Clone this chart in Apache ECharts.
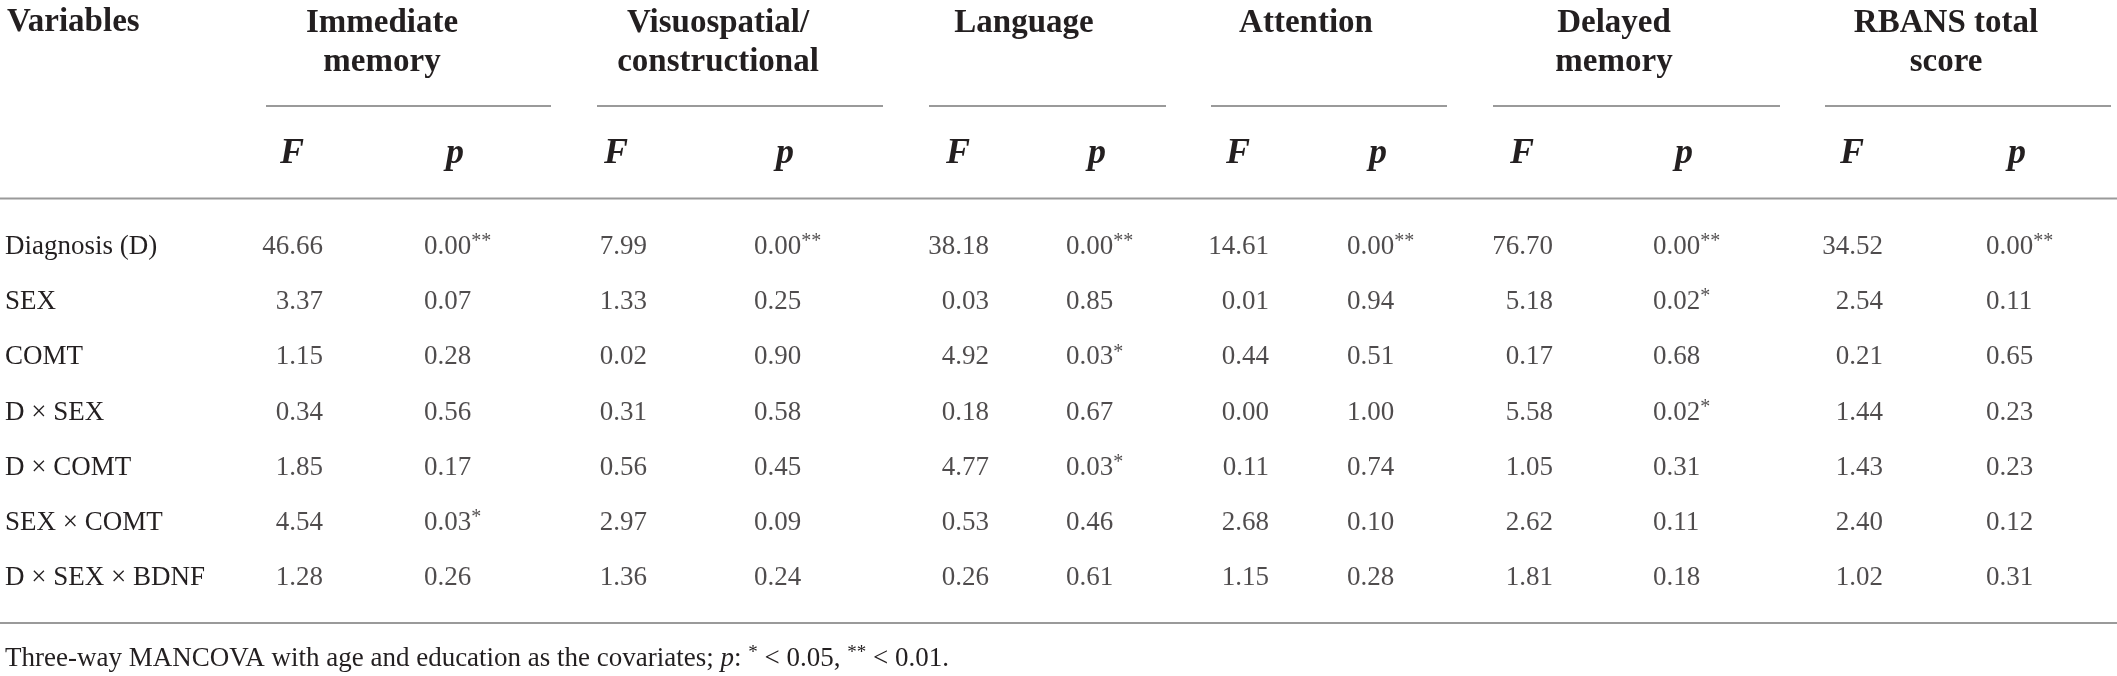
<!DOCTYPE html>
<html>
<head>
<meta charset="utf-8">
<script src="https://cdn.jsdelivr.net/npm/echarts@6/dist/echarts.min.js"></script>
<style>
html,body{margin:0;padding:0;background:#fff;}
#chart{width:2117px;height:676px;}
</style>
</head>
<body>
<div id="chart"></div>
<script>
// ---- data ----
const rowLabels = ['Diagnosis (D)', 'SEX', 'COMT', 'D \u00d7 SEX', 'D \u00d7 COMT', 'SEX \u00d7 COMT', 'D \u00d7 SEX \u00d7 BDNF'];
const statLabels = ['F', 'p'];
const groupNames = ['Immediate\nmemory', 'Visuospatial/\nconstructional', 'Language', 'Attention', 'Delayed\nmemory', 'RBANS total\nscore'];

const immediateF = [46.66, 3.37, 1.15, 0.34, 1.85, 4.54, 1.28];
const immediateP = [0.00, 0.07, 0.28, 0.56, 0.17, 0.03, 0.26];
const visuoF     = [7.99, 1.33, 0.02, 0.31, 0.56, 2.97, 1.36];
const visuoP     = [0.00, 0.25, 0.90, 0.58, 0.45, 0.09, 0.24];
const languageF  = [38.18, 0.03, 4.92, 0.18, 4.77, 0.53, 0.26];
const languageP  = [0.00, 0.85, 0.03, 0.67, 0.03, 0.46, 0.61];
const attentionF = [14.61, 0.01, 0.44, 0.00, 0.11, 2.68, 1.15];
const attentionP = [0.00, 0.94, 0.51, 1.00, 0.74, 0.10, 0.28];
const delayedF   = [76.70, 5.18, 0.17, 5.58, 1.05, 2.62, 1.81];
const delayedP   = [0.00, 0.02, 0.68, 0.02, 0.31, 0.11, 0.18];
const rbansF     = [34.52, 2.54, 0.21, 1.44, 1.43, 2.40, 1.02];
const rbansP     = [0.00, 0.11, 0.65, 0.23, 0.23, 0.12, 0.31];

const footnoteText = 'Three-way MANCOVA with age and education as the covariates; ';

// ---- layout (not data) ----
const groupsF = [immediateF, visuoF, languageF, attentionF, delayedF, rbansF];
const groupsP = [immediateP, visuoP, languageP, attentionP, delayedP, rbansP];
const colCenters = [[292,455],[616,785],[958,1097],[1238,1378],[1522,1684],[1852,2017]];
const headerCenters = [382, 718, 1024, 1306, 1614, 1946];
const underlines = [[266,551],[597,883],[929,1166],[1211,1447],[1493,1780],[1825,2111]];
const FONT = 'Liberation Serif';
const INK = '#231f20';
const RULE = '#9a9a9a';
const bodySize = 27;
const headSize = 33;
const rowTop = 219.4, rowH = 386.2;

function stars(p){ return p < 0.01 ? '**' : (p < 0.05 ? '*' : ''); }

const grids = [], xAxes = [], yAxes = [], series = [];
colCenters.forEach(function(c, g){
  const d = c[1] - c[0];
  grids.push({left: c[0] - d/2, width: 2*d, top: rowTop, height: rowH});
  xAxes.push({
    type: 'category', gridIndex: g, data: statLabels, position: 'top',
    axisLine: {show:false}, axisTick: {show:false}, splitLine: {show:false},
    axisLabel: {show:true, margin: 66, verticalAlign: 'middle',
      fontFamily: FONT, fontWeight: 'bold', fontStyle: 'italic', fontSize: 36, color: INK}
  });
  yAxes.push({
    type: 'category', gridIndex: g, data: rowLabels, inverse: true,
    axisLine: {show:false}, axisTick: {show:false}, splitLine: {show:false},
    axisLabel: g === 0 ? {show:true, align:'left', margin: (c[0]-d/2) - 5,
      fontFamily: FONT, fontSize: bodySize, color: INK} : {show:false}
  });
  series.push({
    type: 'scatter', xAxisIndex: g, yAxisIndex: g, symbolSize: 1, silent: true,
    itemStyle: {color: 'rgba(0,0,0,0)'},
    data: groupsF[g].map(function(v, r){ return [0, r, v]; }),
    label: {show: true, position: 'inside', align: 'right', offset: [31, 0],
      fontFamily: FONT, fontSize: bodySize, color: INK,
      formatter: function(p){ return p.value[2].toFixed(2); }}
  });
  series.push({
    type: 'scatter', xAxisIndex: g, yAxisIndex: g, symbolSize: 1, silent: true,
    itemStyle: {color: 'rgba(0,0,0,0)'},
    data: groupsP[g].map(function(v, r){ return [1, r, v]; }),
    label: {show: true, position: 'inside', align: 'left', offset: [-31, 0],
      fontFamily: FONT, fontSize: bodySize, color: INK,
      formatter: function(p){
        const s = stars(p.value[2]);
        return '{v|' + p.value[2].toFixed(2) + '}' + (s ? '{s|' + s + '}' : '');
      },
      rich: {
        v: {fontFamily: FONT, fontSize: bodySize, color: INK, lineHeight: 30},
        s: {fontFamily: FONT, fontSize: 20, color: INK, verticalAlign: 'top', lineHeight: 30}
      }}
  });
});

const graphics = [];
graphics.push({type:'text', left: 7, top: 6, style:{text:'Variables', font:'bold '+headSize+'px "'+FONT+'"', fill: INK}});
groupNames.forEach(function(name, g){
  graphics.push({type:'text', x: headerCenters[g], y: 4,
    style:{text: name, align:'center', verticalAlign:'top', lineHeight: 39,
      font:'bold '+headSize+'px "'+FONT+'"', fill: INK}});
});
underlines.forEach(function(u){
  graphics.push({type:'line', shape:{x1:u[0], y1:106, x2:u[1], y2:106}, style:{stroke: RULE, lineWidth: 2}});
});
graphics.push({type:'line', shape:{x1:0, y1:198.5, x2:2117, y2:198.5}, style:{stroke: RULE, lineWidth: 2}});
graphics.push({type:'line', shape:{x1:0, y1:623, x2:2117, y2:623}, style:{stroke: RULE, lineWidth: 2}});
graphics.push({type:'text', x: 5, y: 659,
  style:{
    text: '{n|' + footnoteText + '}{i|p}{n|: }{s|*}{n| < 0.05, }{s|**}{n| < 0.01.}',
    verticalAlign: 'middle',
    rich: {
      n: {fontFamily: FONT, fontSize: 27, fill: INK, lineHeight: 30},
      i: {fontFamily: FONT, fontSize: 27, fontStyle: 'italic', fill: INK, lineHeight: 30},
      s: {fontFamily: FONT, fontSize: 19, fill: INK, verticalAlign: 'top', lineHeight: 30}
    }
  }});

const chart = echarts.init(document.getElementById('chart'));
chart.setOption({
  backgroundColor: '#fff',
  animation: false,
  grid: grids,
  xAxis: xAxes,
  yAxis: yAxes,
  series: series,
  graphic: graphics
});
</script>
</body>
</html>
